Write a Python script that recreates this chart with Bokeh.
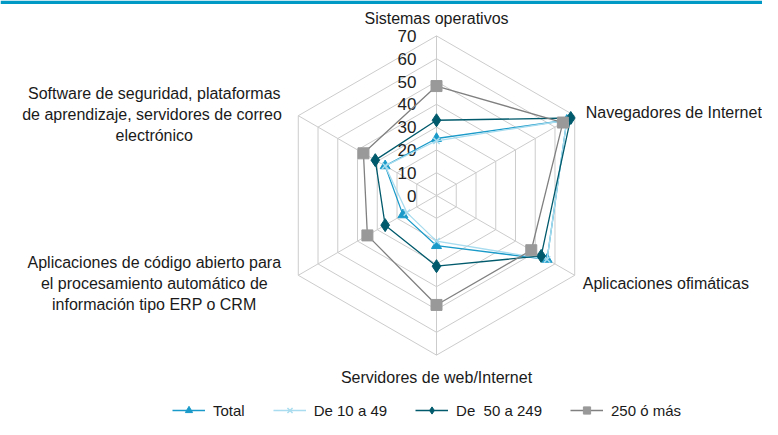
import math
from bokeh.plotting import figure
from bokeh.models import Range1d, Legend, LegendItem
from bokeh.core.properties import value
from bokeh.embed import file_html
from bokeh.resources import INLINE

categories = [
    "Sistemas operativos",
    "Navegadores de Internet",
    "Aplicaciones ofimáticas",
    "Servidores de web/Internet",
    "Aplicaciones de código abierto para\nel procesamiento automático de\ninformación tipo ERP o CRM",
    "Software de seguridad, plataformas\nde aprendizaje,  servidores de correo\nelectrónico",
]
total = [25, 66, 56, 22, 17, 26]
de10a49 = [24, 66, 56, 20, 15, 26]
de50a249 = [33, 68, 53, 31, 26, 31]
de250 = [48, 64, 48, 48, 35, 37]
series_names = ["Total", "De 10 a 49", "De  50 a 249", "250 ó más"]
ticks = [0, 10, 20, 30, 40, 50, 60, 70]
rmax = 70

W, H = 762, 419
s = 2.28          # px per unit
cx, cy = 436, 195  # center in px (y from top)
FONT = "Liberation Sans"

p = figure(width=W, height=H, output_backend="svg", toolbar_location=None,
           min_border=0, x_range=Range1d(-cx / s, (W - cx) / s),
           y_range=Range1d(-(H - cy) / s, cy / s))
p.axis.visible = False
p.grid.visible = False
p.outline_line_color = None
p.background_fill_color = "white"

n = len(categories)
ang = [math.pi / 2 - i * 2 * math.pi / n for i in range(n)]

def xy(vals):
    xs = [v * math.cos(a) for v, a in zip(vals, ang)]
    ys = [v * math.sin(a) for v, a in zip(vals, ang)]
    return xs + xs[:1], ys + ys[:1]

# top bar
p.quad(left=-cx / s, right=(W - cx) / s, top=cy / s, bottom=cy / s - 3.5 / s,
       fill_color="#0099c6", line_color=None)

# grid rings and spokes
gx, gy = [], []
for t in ticks[1:]:
    a, b = xy([t] * n)
    gx.append(a); gy.append(b)
for a in ang:
    gx.append([0, rmax * math.cos(a)]); gy.append([0, rmax * math.sin(a)])
p.multi_line(gx, gy, line_color="#cccccc", line_width=1)

# tick labels
p.text(x=[0] * len(ticks), y=ticks, text=[str(t) for t in ticks], x_offset=-20,
       text_align="right", text_baseline="middle", text_font=value(FONT),
       text_font_size="17px", text_color="#222222")

# category labels
lx = [rmax * math.cos(a) for a in ang]
ly = [rmax * math.sin(a) for a in ang]
offx = [0, 11, 8, 0, -144, -144]
offy = [-17, -3, 8, 22, 8, -1]
aligns = ["center", "left", "left", "center", "center", "center"]
for i in range(n):
    p.text(x=[lx[i]], y=[ly[i]], text=[categories[i]], x_offset=offx[i], y_offset=offy[i],
           text_align=aligns[i], text_baseline="middle", text_font=value(FONT),
           text_font_size="16px", text_color="#1a1a1a", text_line_height=1.25)

styles = [
    (total, "#1a9ac9", "#1a9ac9", "triangle", 10),
    (de10a49, "#a8dcee", "#a8dcee", "x", 9),
    (de50a249, "#005a6c", "#005a6c", "diamond", 13),
    (de250, "#808080", "#999999", "square", 11),
]
items = []
for (vals, lc, mc, mk, sz), name in zip(styles, series_names):
    xs, ys = xy(vals)
    lr = p.line(xs, ys, line_color=lc, line_width=1.3)
    sr = p.scatter(xs[:-1], ys[:-1], marker=mk, size=sz, fill_color=mc, line_color=mc,
                   line_width=1.5 if mk == "x" else 1)
    items.append(LegendItem(label=name, renderers=[lr, sr]))

legend = Legend(items=items, orientation="horizontal", location=(172, 0),
                glyph_width=33, glyph_height=18, label_standoff=8, spacing=28,
                padding=0, margin=0, border_line_color=None, background_fill_alpha=0,
                label_text_font=FONT, label_text_font_size="15px",
                label_text_color="#1a1a1a")
p.add_layout(legend, "center")

open("out.html", "w").write(file_html(p, INLINE))
